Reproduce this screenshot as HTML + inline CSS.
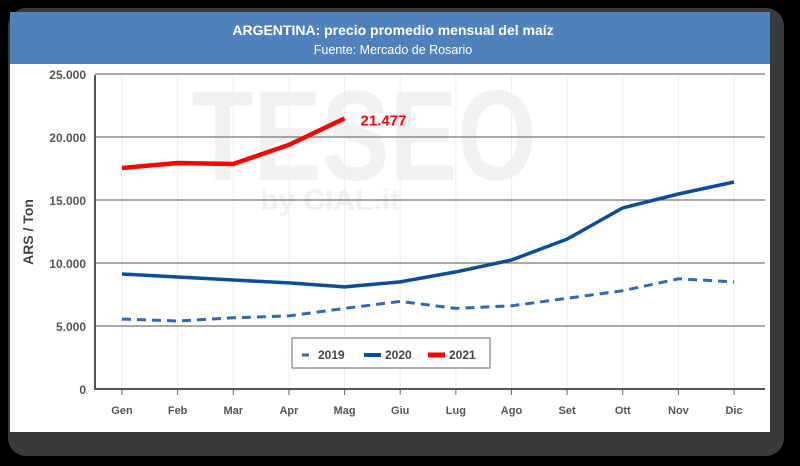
<!DOCTYPE html>
<html><head><meta charset="utf-8"><style>
body{margin:0;background:#000;width:800px;height:461px;overflow:hidden;font-family:"Liberation Sans",sans-serif}
</style></head><body>
<svg width="800" height="461" xmlns="http://www.w3.org/2000/svg">
<rect x="8" y="8" width="776" height="448" rx="18" fill="#3a3a3a"/>
<rect x="10" y="12" width="760" height="420" fill="#fff"/>
<rect x="10" y="12" width="760" height="52" fill="#4f81bd"/>
<text x="393" y="35" text-anchor="middle" fill="#fff" font-size="14" font-weight="bold">ARGENTINA: precio promedio mensual del maíz</text>
<text x="393" y="54" text-anchor="middle" fill="#fff" font-size="12.5">Fuente: Mercado de Rosario</text>
<g id="wm">
<text x="364" y="180" text-anchor="middle" fill="#f1f1f1" font-size="128" font-weight="bold" textLength="345" lengthAdjust="spacingAndGlyphs">TESEO</text>
<text x="330" y="210" text-anchor="middle" fill="#f1f1f1" font-size="30" font-weight="bold">by CIAL.it</text>
</g>
<g id="grid"></g>
<g id="series"></g>
<text x="33" y="232" transform="rotate(-90 33 232)" text-anchor="middle" font-size="14" font-weight="bold" fill="#444">ARS / Ton</text>
<g>
<rect x="292" y="338" width="198" height="30" fill="#fff" stroke="#666" stroke-width="1"/>
<line x1="302" y1="355" x2="309" y2="355" stroke="#2e6aad" stroke-width="3"/>
<text x="318" y="359" font-size="12" font-weight="bold" fill="#444">2019</text>
<line x1="364" y1="355" x2="381" y2="355" stroke="#0d4d96" stroke-width="4"/>
<text x="385" y="359" font-size="12" font-weight="bold" fill="#444">2020</text>
<line x1="428" y1="355" x2="445" y2="355" stroke="#ff0000" stroke-width="5"/>
<text x="449" y="359" font-size="12" font-weight="bold" fill="#444">2021</text>
</g>
</svg>
<script>
const months=["Gen","Feb","Mar","Apr","Mag","Giu","Lug","Ago","Set","Ott","Nov","Dic"];
const s2019=[5550,5400,5650,5800,6400,6950,6400,6600,7200,7800,8750,8500];
const s2020=[9130,8890,8650,8420,8100,8500,9290,10240,11900,14370,15480,16430];
const s2021=[17540,17940,17860,19370,21477];
const yTicks=[0,5000,10000,15000,20000,25000];
const yTickLabels=["0","5.000","10.000","15.000","20.000","25.000"];
const NS="http://www.w3.org/2000/svg";
const x=i=>122+i*55.64;
const y=v=>389-v*(63/5000);
function mk(t,a,p){const e=document.createElementNS(NS,t);for(const k in a)e.setAttribute(k,a[k]);p.appendChild(e);return e;}
const g=document.getElementById('grid'),s=document.getElementById('series');
months.forEach((m,i)=>{
 const l=mk('line',{x1:x(i),x2:x(i),y1:75,y2:389,stroke:'#eeeeee','stroke-width':1},g);
 
 
 const tk=mk('line',{x1:x(i),x2:x(i),y1:389,y2:395,stroke:'#666','stroke-width':1},g);
 
 
 const t=mk('text',{x:x(i),y:414,'text-anchor':'middle','font-size':11,'font-weight':'bold',fill:'#555'},g);
 t.textContent=m;
 
 
});
yTicks.forEach((v,i)=>{
 if(v>0){const l=mk('line',{x1:95,x2:765,y1:y(v),y2:y(v),stroke:'#777','stroke-width':1.3},g);
 
 }
 const t=mk('text',{x:86,y:y(v)+5,'text-anchor':'end','font-size':12,'font-weight':'bold',fill:'#555'},g);
 t.textContent=yTickLabels[i];
 
 
});
const ax=mk('path',{d:'M95 75 V389 H765',fill:'none',stroke:'#555','stroke-width':2},g);


function pts(a){return a.map((v,i)=>x(i).toFixed(1)+','+y(v).toFixed(1)).join(' ');}
const p1=mk('polyline',{points:pts(s2019),fill:'none',stroke:'#2e6aad','stroke-width':3,'stroke-dasharray':'9 6','stroke-linejoin':'round'},s);


const p2=mk('polyline',{points:pts(s2020),fill:'none',stroke:'#0d4d96','stroke-width':3.5,'stroke-linejoin':'round'},s);


const p3=mk('polyline',{points:pts(s2021),fill:'none',stroke:'#ff0000','stroke-width':4.5,'stroke-linejoin':'round'},s);


const last=s2021.length-1;
const lb=mk('text',{x:x(last)+16,y:y(s2021[last])+7,'font-size':15,'font-weight':'bold',fill:'#ff0000'},s);
lb.textContent=s2021[last].toLocaleString('de-DE');


</script>
</body></html>
